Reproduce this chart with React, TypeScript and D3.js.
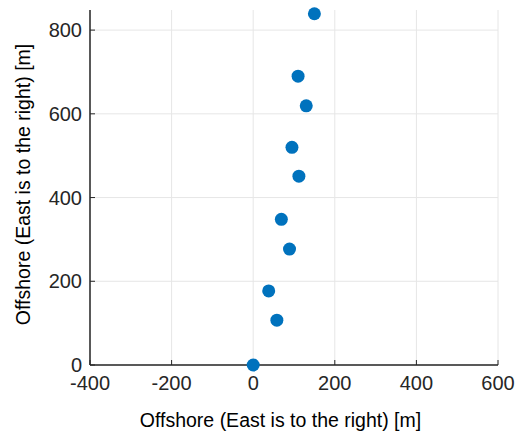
import React from "react";
import * as d3 from "d3";

// Sensor positions in metres
const eastOffsets = [0, 58, 38, 89, 69, 112, 95, 130, 110, 150];
const northOffsets = [0, 107, 177, 277, 348, 451, 520, 619, 690, 839];
const xTicks = [-400, -200, 0, 200, 400, 600];
const yTicks = [0, 200, 400, 600, 800];
const xLabel = "Offshore (East is to the right) [m]";
const yLabel = "Offshore (East is to the right) [m]";

const W = 519;
const H = 436;
const margin = { left: 90, right: 21, top: 10, bottom: 71 };
const FONT = "'Liberation Sans', Arial, Helvetica, sans-serif";

export default function App() {
  const x = d3.scaleLinear().domain([-400, 600]).range([margin.left, W - margin.right]);
  const y = d3.scaleLinear().domain([0, 848]).range([H - margin.bottom, margin.top]);
  const points = eastOffsets.map((e, i) => ({ e, n: northOffsets[i] }));
  const [x0, x1] = x.range();
  const [y0, y1] = y.range();
  const axisColor = "#262626";

  return (
    <svg
      width={W}
      height={H}
      style={{ position: "absolute", left: 0, top: 0, background: "#fff" }}
      fontFamily={FONT}
    >
      {/* grid */}
      {xTicks.map((t) => (
        <line key={"gx" + t} x1={x(t)} x2={x(t)} y1={y0} y2={y1} stroke="#e6e6e6" strokeWidth={1} />
      ))}
      {yTicks.map((t) => (
        <line key={"gy" + t} x1={x0} x2={x1} y1={y(t)} y2={y(t)} stroke="#e6e6e6" strokeWidth={1} />
      ))}
      {/* axes */}
      <line x1={x0} x2={x1} y1={y0} y2={y0} stroke={axisColor} strokeWidth={1.5} />
      <line x1={x0} x2={x0} y1={y0} y2={y1} stroke={axisColor} strokeWidth={1.5} />
      {xTicks.map((t) => (
        <g key={"tx" + t}>
          <line x1={x(t)} x2={x(t)} y1={y0} y2={y0 - 5} stroke={axisColor} strokeWidth={1} />
          <text x={x(t)} y={y0 + 25} textAnchor="middle" fontSize={20} fill={axisColor}>
            {t}
          </text>
        </g>
      ))}
      {yTicks.map((t) => (
        <g key={"ty" + t}>
          <line x1={x0} x2={x0 + 5} y1={y(t)} y2={y(t)} stroke={axisColor} strokeWidth={1} />
          <text x={x0 - 8} y={y(t) + 7} textAnchor="end" fontSize={20} fill={axisColor}>
            {t}
          </text>
        </g>
      ))}
      {/* points */}
      {points.map((p, i) => (
        <circle key={i} cx={x(p.e)} cy={y(p.n)} r={6.5} fill="#0072BD" />
      ))}
      {/* labels */}
      <text x={280.5} y={427} textAnchor="middle" fontSize={19.5} fill="#000">
        {xLabel}
      </text>
      <text
        transform={`translate(30, 184.5) rotate(-90)`}
        textAnchor="middle"
        fontSize={19.5}
        fill="#000"
      >
        {yLabel}
      </text>
    </svg>
  );
}
